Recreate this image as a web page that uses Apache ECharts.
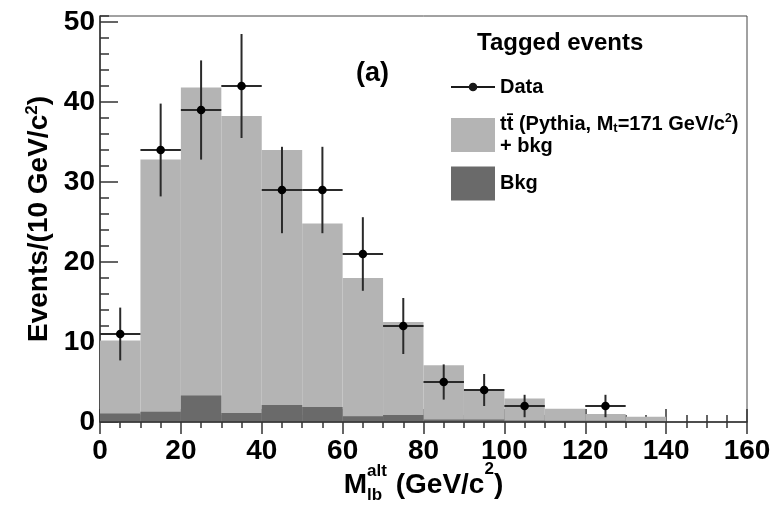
<!DOCTYPE html>
<html><head><meta charset="utf-8">
<script src="https://cdn.jsdelivr.net/npm/echarts@6/dist/echarts.min.js"></script>
<style>html,body{margin:0;padding:0;background:#fff}#c{width:772px;height:505px}</style>
</head><body><div id="c"></div>
<script>
// ---- data ----
const binEdges = [0,10,20,30,40,50,60,70,80,90,100,110,120,130,140,150,160];
const mcTotal  = [10.2,32.8,41.8,38.25,34.0,24.8,18.0,12.5,7.1,4.05,2.95,1.65,1.0,0.65,0,0];
const bkgOnly  = [1.05,1.27,3.3,1.14,2.14,1.86,0.72,0.86,0.3,0.3,0.2,0.15,0.15,0.1,0,0];
const dataX    = [5,15,25,35,45,55,65,75,85,95,105,125];
const dataY    = [11,34,39,42,29,29,21,12,5,4,2,2];
const dataErr  = [3.3,5.8,6.2,6.5,5.4,5.4,4.6,3.5,2.2,2.0,1.4,1.4];
const binWidth = 10;
const xMin = 0, xMax = 160, xStep = 20;
const yMin = 0, yMax = 50.75, yStep = 10, yMinorStep = 2;
const legendLabels = {
  'Data': '{n|Data}',
  'ttbar': '{n|tt\u0304 (Pythia, M}{sub|t}{n|=171 GeV/c}{sup|2}{n|)}\n{n|+ bkg}',
  'Bkg': '{n|Bkg}'
};
const yTitle = '{b|Events/(10 GeV/c}{s|2}{b|)}';

// ---- styling ----
const FONT = '"Liberation Sans", Arial, Helvetica, sans-serif';
const LIGHT = '#b4b4b4', DARK = '#6a6a6a', AX = '#333';

const histMC  = mcTotal.map((v, i) => [binEdges[i], binEdges[i+1], v]);
const histBkg = bkgOnly.map((v, i) => [binEdges[i], binEdges[i+1], v]);
const pts = dataX.map((x, i) => [x, dataY[i], dataErr[i], binWidth]);

function histRender(color) {
  return function (params, api) {
    const lo = api.value(0), hi = api.value(1), v = api.value(2);
    if (!(v > 0)) return null;
    const p0 = api.coord([lo, v]);
    const p1 = api.coord([hi, 0]);
    return { type: 'rect', shape: { x: p0[0], y: p0[1], width: p1[0] - p0[0], height: p1[1] - p0[1] },
             style: { fill: color } };
  };
}
function dataRender(params, api) {
  const x = api.value(0), y = api.value(1), e = api.value(2), w = api.value(3);
  const c = api.coord([x, y]);
  const l = api.coord([x - w / 2, y]), r = api.coord([x + w / 2, y]);
  const t = api.coord([x, y + e]), b = api.coord([x, y - e]);
  const ls = { stroke: '#2a2a2a', lineWidth: 2 };
  return { type: 'group', children: [
    { type: 'line', shape: { x1: l[0], y1: l[1], x2: r[0], y2: r[1] }, style: ls },
    { type: 'line', shape: { x1: t[0], y1: t[1], x2: b[0], y2: b[1] }, style: ls },
    { type: 'circle', shape: { cx: c[0], cy: c[1], r: 4.3 }, style: { fill: '#000' } }
  ]};
}

const legendText = { fontSize: 20, fontWeight: 'bold', color: '#000', fontFamily: FONT, lineHeight: 22,
  rich: {
    n:   { fontSize: 20, fontWeight: 'bold', color: '#000', fontFamily: FONT, lineHeight: 22 },
    sup: { fontSize: 12, fontWeight: 'bold', color: '#000', fontFamily: FONT, lineHeight: 8, verticalAlign: 'top' },
    sub: { fontSize: 13, fontWeight: 'bold', color: '#000', fontFamily: FONT, lineHeight: 5, verticalAlign: 'bottom' }
  } };
function legendFmt(name) { return legendLabels[name]; }

const tickStyle = { color: AX, width: 1.5 };
const chart = echarts.init(document.getElementById('c'), null, { renderer: 'canvas' });
chart.setOption({
  animation: false,
  backgroundColor: '#fff',
  grid: { left: 100, right: 25, top: 16, bottom: 83, show: true, borderColor: '#444', borderWidth: 1,
          containLabel: false, outerBoundsMode: 'none' },
  title: [
    { text: 'Tagged events', left: 477, top: 29, padding: 0,
      textStyle: { fontSize: 24, fontWeight: 'bold', color: '#000', fontFamily: FONT, lineHeight: 28 } },
    { text: '(a)', left: 356, top: 59, padding: 0,
      textStyle: { fontSize: 27, fontWeight: 'bold', color: '#000', fontFamily: FONT, lineHeight: 30 } }
  ],
  legend: [
    { orient: 'vertical', left: 451, top: 76, padding: 0,
      itemWidth: 44, itemHeight: 34, itemGap: 0, selectedMode: false,
      itemStyle: { borderWidth: 0 }, textStyle: legendText, formatter: legendFmt,
      data: [ { name: 'Data', icon: 'path://M0 16L44 16L44 18L0 18ZM26.3 17A4.3 4.3 0 1 1 17.7 17A4.3 4.3 0 1 1 26.3 17Z' } ] },
    { orient: 'vertical', left: 451, top: 113, padding: 0,
      itemWidth: 44, itemHeight: 34, itemGap: 9.5, selectedMode: false,
      itemStyle: { borderWidth: 0 }, textStyle: legendText, formatter: legendFmt,
      data: [ { name: 'ttbar', icon: 'rect' }, { name: 'Bkg', icon: 'rect' } ] }
  ],
  xAxis: [
    { type: 'value', min: xMin, max: xMax, interval: xStep, position: 'bottom', z: 10,
      axisLine: { show: true, onZero: false, lineStyle: { color: AX, width: 1.5 } },
      axisTick: { show: true, inside: false, length: 12, lineStyle: tickStyle },
      minorTick: { show: true, splitNumber: 4, length: 6, lineStyle: tickStyle },
      axisLabel: { fontSize: 28, fontWeight: 'bold', color: '#000', fontFamily: FONT, margin: 15 },
      splitLine: { show: false }, minorSplitLine: { show: false } },
    { type: 'value', min: xMin, max: xMax, interval: xStep, position: 'bottom', z: 0,
      axisLine: { show: false },
      axisTick: { show: true, inside: true, length: 13, lineStyle: tickStyle },
      minorTick: { show: true, splitNumber: 4, length: 7, lineStyle: tickStyle },
      axisLabel: { show: false }, splitLine: { show: false } }
  ],
  yAxis: [
    { type: 'value', min: yMin, max: yMax, interval: yStep, position: 'left', z: 0,
      axisLine: { show: true, onZero: false, lineStyle: { color: AX, width: 1.5 } },
      axisTick: { show: true, inside: true, length: 18, lineStyle: tickStyle },
      axisLabel: { fontSize: 28, fontWeight: 'bold', color: '#000', fontFamily: FONT, margin: 5, showMaxLabel: false },
      splitLine: { show: false },
      name: yTitle, nameLocation: 'middle', nameGap: 38,
      nameTextStyle: { rich: {
        b: { fontSize: 28, fontWeight: 'bold', color: '#000', fontFamily: FONT, lineHeight: 30 },
        s: { fontSize: 17, fontWeight: 'bold', color: '#000', fontFamily: FONT, lineHeight: 14, verticalAlign: 'top' }
      } } },
    { type: 'value', min: yMin, max: yMax, interval: yMinorStep, position: 'left', z: 0,
      axisLine: { show: false },
      axisTick: { show: true, inside: true, length: 9, lineStyle: tickStyle },
      axisLabel: { show: false }, splitLine: { show: false } }
  ],
  series: [
    { name: 'ttbar', type: 'custom', xAxisIndex: 0, yAxisIndex: 0, z: 2,
      itemStyle: { color: LIGHT }, renderItem: histRender(LIGHT), data: histMC,
      encode: { x: [0, 1], y: 2 } },
    { name: 'Bkg', type: 'custom', xAxisIndex: 0, yAxisIndex: 0, z: 3,
      itemStyle: { color: DARK }, renderItem: histRender(DARK), data: histBkg,
      encode: { x: [0, 1], y: 2 } },
    { name: 'Data', type: 'custom', xAxisIndex: 0, yAxisIndex: 0, z: 4,
      itemStyle: { color: '#1a1a1a' }, renderItem: dataRender, data: pts,
      encode: { x: 0, y: 1 } }
  ]
});

// ---- x-axis title with stacked sub/superscript (placed from the axis scale) ----
const mctx = document.createElement('canvas').getContext('2d');
function tw(t, size) { mctx.font = 'bold ' + size + 'px ' + FONT; return mctx.measureText(t).width; }
const BIG = 28, SML = 17;
const xa = chart.convertToPixel({ xAxisIndex: 0 }, xMin);
const xb = chart.convertToPixel({ xAxisIndex: 0 }, xMax);
const y0 = chart.convertToPixel({ yAxisIndex: 0 }, 0);
const cx = (xa + xb) / 2;
const yB = y0 + 73;
const wM = tw('M', BIG), wStack = Math.max(tw('alt', SML), tw('lb', SML)) + 1;
const wMid = tw(' (GeV/c', BIG), w2 = tw('2', SML), wP = tw(')', BIG);
const total = wM + wStack + wMid + w2 + wP;
let x0 = cx - total / 2;
function txt(t, x, y, size) {
  return { type: 'text', x: x, y: y, silent: true,
    style: { text: t, fontSize: size, fontWeight: 'bold', fontFamily: FONT, fill: '#000',
             align: 'left', verticalAlign: 'middle', textAlign: 'left', textVerticalAlign: 'middle' } };
}
const midBig = yB - 0.345 * BIG;
chart.setOption({ graphic: [
  txt('M', x0, midBig, BIG),
  txt('alt', x0 + wM, yB - 18 - 0.345 * SML, SML),
  txt('lb', x0 + wM, yB + 6 - 0.345 * SML, SML),
  txt(' (GeV/c', x0 + wM + wStack, midBig, BIG),
  txt('2', x0 + wM + wStack + wMid, yB - 20 - 0.345 * SML, SML),
  txt(')', x0 + wM + wStack + wMid + w2, midBig, BIG)
]});
</script>
</body></html>
